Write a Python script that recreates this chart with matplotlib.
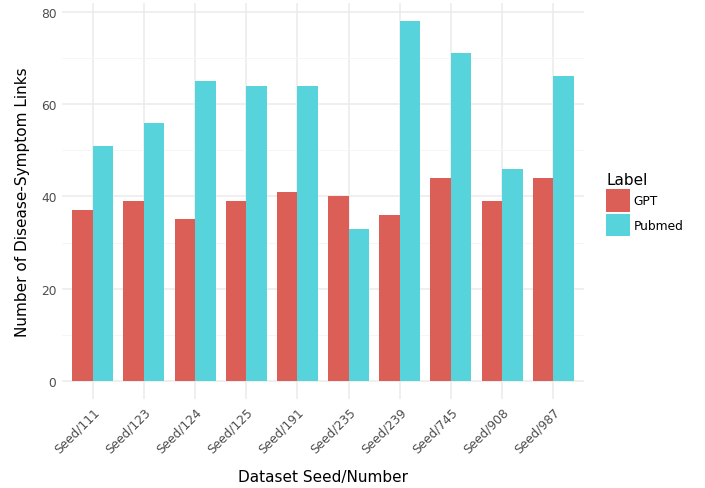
import numpy as np
import matplotlib
matplotlib.use("Agg")
from matplotlib import pyplot as plt
from matplotlib.patches import Patch

seeds = ["Seed/111", "Seed/123", "Seed/124", "Seed/125", "Seed/191",
         "Seed/235", "Seed/239", "Seed/745", "Seed/908", "Seed/987"]
gpt = [37, 39, 35, 39, 41, 40, 36, 44, 39, 44]
pubmed = [51, 56, 65, 64, 64, 33, 78, 71, 46, 66]
labels = ["GPT", "Pubmed"]
colors = ["#DB5F57", "#57D3DB"]

fig = plt.figure(figsize=(7.05, 4.89), dpi=100)
ax = fig.add_axes([62 / 705, 1 - 400 / 489, (584 - 62) / 705, (400 - 4) / 489])

x = np.arange(len(seeds))
w = 0.4
ax.bar(x - w / 2, gpt, width=w, color=colors[0], zorder=3)
ax.bar(x + w / 2, pubmed, width=w, color=colors[1], zorder=3)

ax.set_xlim(-0.6, len(seeds) - 0.4)
ax.set_ylim(-3.9, 81.9)
ax.set_yticks([0, 20, 40, 60, 80])
ax.set_yticks([10, 30, 50, 70], minor=True)
ax.set_xticks(x)
ax.set_xticklabels(seeds, rotation=45, ha="right", rotation_mode="anchor")

ax.grid(True, which="major", color="#EBEBEB", linewidth=1.1, zorder=0)
ax.grid(True, which="minor", axis="y", color="#F5F5F5", linewidth=0.6, zorder=0)
for s in ax.spines.values():
    s.set_visible(False)
ax.tick_params(which="both", length=0, colors="#4D4D4D", labelsize=8.8, pad=4)

ax.set_xlabel("Dataset Seed/Number", fontsize=11, labelpad=10)
ax.set_ylabel("Number of Disease-Symptom Links", fontsize=11, labelpad=8)

handles = [Patch(facecolor=c, edgecolor="none") for c in colors]
leg = fig.legend(handles, labels, title="Label", loc="upper left",
                 bbox_to_anchor=(595 / 705, 1 - 162 / 489), frameon=False,
                 fontsize=8.8, title_fontsize=11, handlelength=1.95,
                 handleheight=2.5, handletextpad=0.3, labelspacing=0.15)
leg._legend_box.align = "left"

fig.savefig("out.png", dpi=100)
